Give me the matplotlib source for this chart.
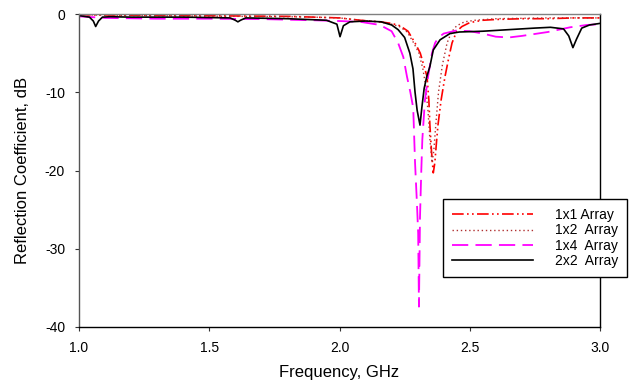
import matplotlib
matplotlib.use("Agg")
import matplotlib.pyplot as plt

plt.rcParams['font.family'] = ['Liberation Sans', 'DejaVu Sans']

# 1x1 Array
f11 = [1.0, 1.2, 1.4, 1.6, 1.8, 1.9, 2.0, 2.08, 2.155, 2.2, 2.232, 2.263, 2.29, 2.31, 2.325, 2.336, 2.343,
       2.347, 2.353, 2.36, 2.366, 2.372, 2.378, 2.39, 2.405, 2.42, 2.432, 2.45, 2.47, 2.5, 2.55, 2.6,
       2.7, 2.8, 2.9, 3.0]
s11 = [-0.1, -0.15, -0.2, -0.25, -0.3, -0.4, -0.5, -0.8, -1.0, -1.2, -1.5, -2.2, -3.7, -5.0, -6.7, -8.0, -11.0,
       -14.2, -17.5, -20.3, -19.0, -16.5, -14.2, -11.0, -8.0, -5.5, -3.7, -2.2, -1.6, -1.1, -0.8, -0.7,
       -0.6, -0.6, -0.5, -0.5]

# 1x2 Array
f12 = [1.0, 1.2, 1.4, 1.6, 1.8, 1.9, 2.0, 2.08, 2.155, 2.2, 2.23, 2.26, 2.285, 2.305, 2.32, 2.33, 2.34,
       2.347, 2.355, 2.362, 2.37, 2.38, 2.395, 2.413, 2.43, 2.45, 2.48, 2.52, 2.6, 2.7, 2.8, 2.9, 3.0]
s12 = [-0.1, -0.2, -0.25, -0.3, -0.35, -0.4, -0.5, -0.8, -1.0, -1.3, -1.6, -2.3, -3.7, -5.0, -7.0, -9.0, -12.5,
       -16.0, -19.0, -17.5, -14.0, -10.0, -6.5, -3.7, -2.3, -1.5, -1.0, -0.8, -0.6, -0.55, -0.5, -0.5, -0.5]

# 1x4 Array
f14 = [1.0, 1.1, 1.3, 1.5, 1.7, 1.9, 2.0, 2.08, 2.155, 2.2, 2.225, 2.245, 2.259, 2.272, 2.283, 2.29,
       2.297, 2.302, 2.305, 2.309, 2.314, 2.318, 2.322, 2.328, 2.34, 2.355, 2.367, 2.38, 2.4, 2.45, 2.5,
       2.55, 2.6, 2.65, 2.7, 2.8, 2.885, 2.95, 3.0]
s14 = [-0.3, -0.5, -0.6, -0.6, -0.65, -0.8, -0.9, -1.0, -1.4, -2.2, -3.7, -5.5, -8.0, -10.0, -12.0, -19.0,
       -24.0, -28.0, -37.4, -26.0, -20.0, -16.0, -14.0, -11.0, -8.0, -5.0, -3.7, -3.0, -2.5, -2.1, -2.2,
       -2.5, -2.9, -3.0, -2.8, -2.3, -1.7, -1.4, -1.3]

# 2x2 Array
f22 = [1.0, 1.02, 1.04, 1.055, 1.064, 1.075, 1.09, 1.12, 1.2, 1.4, 1.58, 1.6, 1.61, 1.62, 1.64, 1.8,
       1.95, 1.99, 2.002, 2.015, 2.04, 2.1, 2.16, 2.2, 2.225, 2.25, 2.27, 2.282, 2.29, 2.298, 2.309, 2.316,
       2.325, 2.335, 2.347, 2.36, 2.386, 2.424, 2.46, 2.55, 2.65, 2.75, 2.81, 2.86, 2.88, 2.896, 2.91,
       2.93, 2.96, 3.0]
s22 = [-0.2, -0.3, -0.4, -0.9, -1.6, -0.9, -0.4, -0.35, -0.4, -0.4, -0.5, -0.8, -1.0, -0.8, -0.5, -0.6,
       -0.8, -1.3, -2.9, -1.5, -1.0, -0.9, -1.0, -1.4, -2.0, -3.0, -5.0, -7.0, -10.0, -12.3, -14.2, -12.0,
       -9.5, -8.0, -6.7, -4.6, -3.3, -2.5, -2.3, -2.2, -2.0, -1.8, -1.7, -1.9, -2.8, -4.3, -3.2,
       -1.8, -1.4, -1.2]

labels = ['1x1 Array', '1x2  Array', '1x4  Array', '2x2  Array']
xticks = [1.0, 1.5, 2.0, 2.5, 3.0]
yticks = [0, -10, -20, -30, -40]

fig = plt.figure(figsize=(6.39, 3.83), dpi=100)
ax = fig.add_axes([79/639, 1-327/383, (600-79)/639, (327-14)/383])

ax.plot(f11, s11, color='#ff0000', lw=1.2, ls=(0, (7, 2, 1, 2, 1, 2)), label=labels[0])
ax.plot(f12, s12, color='#b03030', lw=1.0, ls=(0, (1, 2)), label=labels[1])
ax.plot(f14, s14, color='#ff00ff', lw=1.3, ls=(0, (9, 4)), label=labels[2])
ax.plot(f22, s22, color='black', lw=1.2, ls='-', label=labels[3])

ax.set_xlim(1.0, 3.0)
ax.set_ylim(-40, 0)
ax.set_xticks(xticks)
ax.set_xticklabels([f"{t:.1f}" for t in xticks])
ax.set_yticks(yticks)
ax.set_yticklabels([str(t) for t in yticks])
ax.tick_params(direction='out', length=3, width=0.8, labelsize=10, pad=7, color='#333333')
ax.set_xlabel('Frequency, GHz', fontsize=12, labelpad=7)
ax.set_ylabel('Reflection Coefficient, dB', fontsize=12, labelpad=11)
ax.spines['top'].set_color('#808080')
ax.spines['left'].set_color('#555555')
ax.spines['right'].set_color('black')
ax.spines['bottom'].set_color('black')
for s in ax.spines.values():
    s.set_linewidth(1.0)

leg = ax.legend(loc='upper left', bbox_to_anchor=(0.699, 0.409), fontsize=10,
                handlelength=5.8, handletextpad=1.6, labelspacing=0.1,
                borderpad=0.65, fancybox=False, framealpha=1, edgecolor='black',
                borderaxespad=0)
leg.get_frame().set_linewidth(1.0)

fig.savefig('out.png', dpi=100)
